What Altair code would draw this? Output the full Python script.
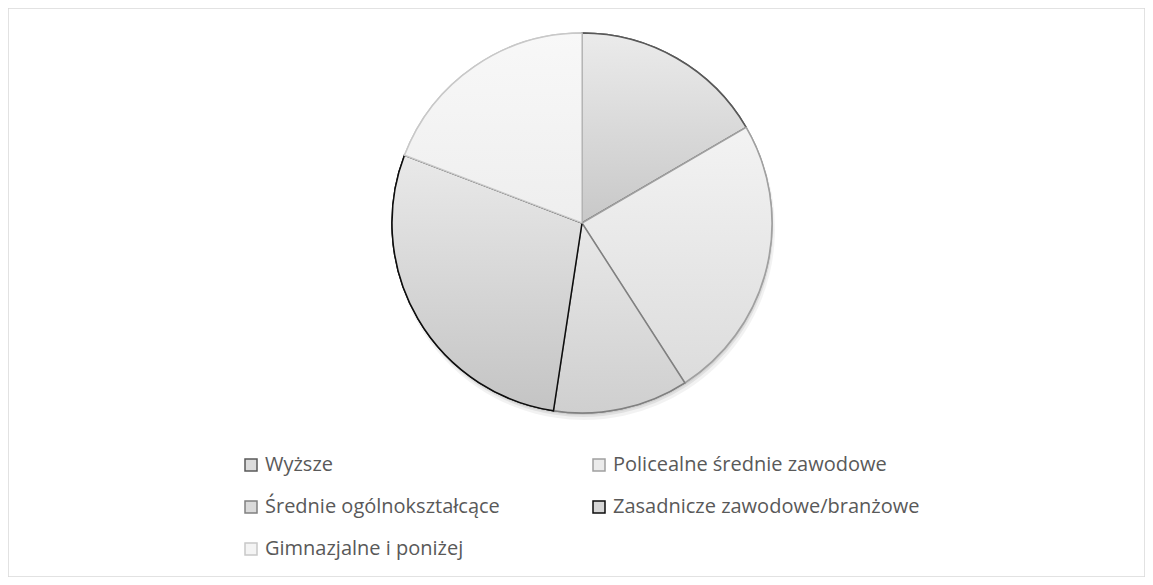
import altair as alt
import pandas as pd

categories = ["Wyższe", "Policealne średnie zawodowe", "Średnie ogólnokształcące",
              "Zasadnicze zawodowe/branżowe", "Gimnazjalne i poniżej"]
shares = [16.6, 24.3, 11.5, 28.4, 19.2]
order = [0, 1, 2, 3, 4]
fills = ["#dcdcdc", "#ebebeb", "#dadada", "#d6d6d6", "#f4f4f4"]
grad_top = ["#ebebeb", "#f3f3f3", "#e8e8e8", "#e9e9e9", "#f8f8f8"]
grad_bottom = ["#c8c8c8", "#dcdcdc", "#cfcfcf", "#c4c4c4", "#eeeeee"]
strokes = ["#595959", "#a0a0a0", "#808080", "#0d0d0d", "#c8c8c8"]
# legend is filled column by column: this gives rows W|P, Ś|Z, G
legend_order = [categories[i] for i in (0, 2, 4, 1, 3)]

df = pd.DataFrame({"cat": categories, "share": shares, "ord": order})

W, H = 1137, 569
CX, CY, R = 574, 215, 190

theta_scale = alt.Scale(domain=[0, 100], range=[0, 6.283185307179586])

legend = alt.Legend(
    title=None, orient="none", legendX=233, legendY=447, columns=2,
    columnPadding=89, rowPadding=22, symbolType="square", symbolSize=144,
    symbolStrokeWidth=1.5, labelFont="Open Sans", labelFontSize=20,
    labelColor="#595959", labelOffset=4, labelLimit=400, padding=0,
)

base = alt.Chart(df).transform_window(
    cum="sum(share)", sort=[alt.SortField("ord")]
).transform_calculate(start="datum.cum - datum.share")

# soft shadow under the pie
shadows = []
for dy, rr, op in [(6, 191, 0.05), (4, 190, 0.07), (2, 190, 0.08)]:
    shadows.append(
        base.mark_arc(radius=rr, color="#000000", opacity=op).encode(
            theta=alt.Theta("start:Q", scale=theta_scale),
            theta2="cum:Q",
            x=alt.value(CX + dy / 3),
            y=alt.value(CY + dy),
        )
    )

flat = base.mark_arc(radius=R, strokeWidth=1.5).encode(
    theta=alt.Theta("start:Q", scale=theta_scale),
    theta2="cum:Q",
    x=alt.value(CX),
    y=alt.value(CY),
    color=alt.Color("cat:N", scale=alt.Scale(domain=legend_order,
                    range=[fills[categories.index(c)] for c in legend_order]),
                    legend=legend),
    stroke=alt.Stroke("cat:N", scale=alt.Scale(domain=legend_order,
                      range=[strokes[categories.index(c)] for c in legend_order])),
)

layers = shadows + [flat]
for i, cat in enumerate(categories):
    grad = alt.LinearGradient(
        gradient="linear", x1=0, y1=0, x2=0, y2=1,
        stops=[alt.GradientStop(color=grad_top[i], offset=0),
               alt.GradientStop(color=grad_bottom[i], offset=1)],
    )
    layers.append(
        base.transform_filter(alt.datum.cat == cat).mark_arc(
            radius=R, color=grad, stroke=strokes[i], strokeWidth=1.5
        ).encode(
            theta=alt.Theta("start:Q", scale=theta_scale),
            theta2="cum:Q",
            x=alt.value(CX),
            y=alt.value(CY),
        )
    )

chart = alt.layer(*layers).properties(
    width=W, height=H, padding=0, autosize=alt.AutoSizeParams(type="none")
).configure_view(stroke="#d9d9d9", strokeWidth=1.5)

chart.save("out.html", embed_options={"renderer": "svg", "actions": False})
